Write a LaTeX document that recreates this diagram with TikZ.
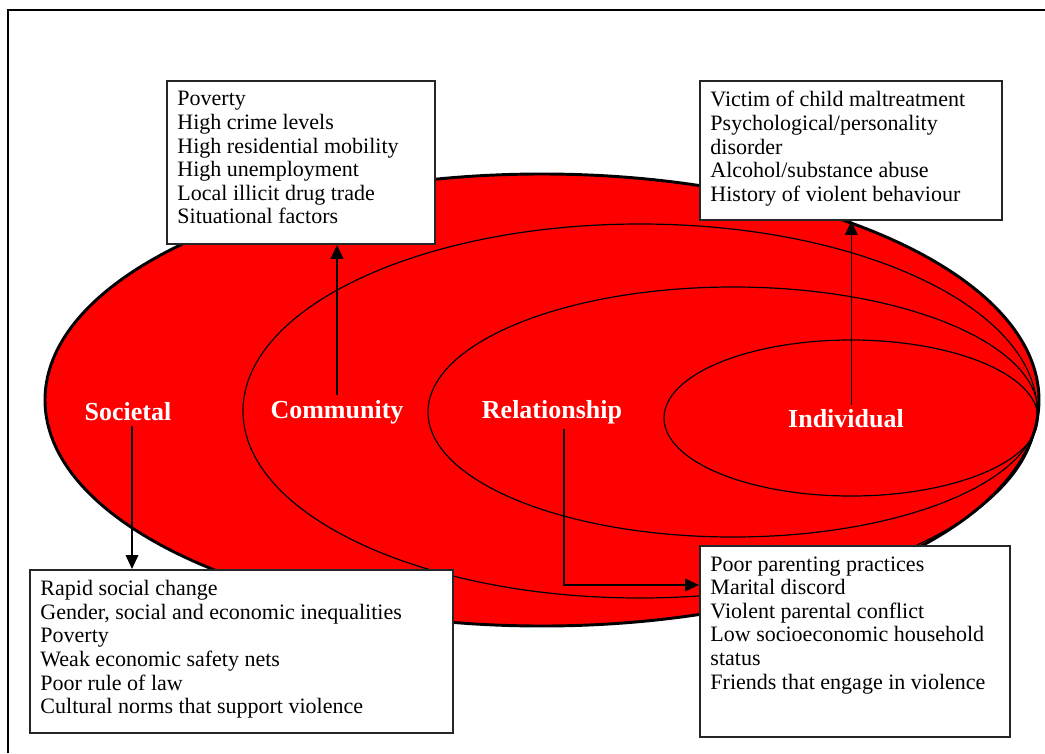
\documentclass[tikz,border=0pt]{standalone}
\usepackage{fontspec}
\setmainfont{Liberation Serif}
\usepackage{tikz}
\usetikzlibrary{arrows.meta, positioning}

% Caja de texto con alto fijo y texto arriba
\newcommand{\listafactores}[3]{\parbox[t][#2][t]{#1}{\fontsize{16.5}{17.7}\selectfont #3}}

\begin{document}
\begin{tikzpicture}[x=0.75pt, y=-0.75pt,
		nivel/.style={font=\fontsize{19.5}{22}\selectfont\bfseries, text=white},
		factores/.style={draw=black!85, line width=1.2pt, fill=white, anchor=north west, inner xsep=8pt, inner ysep=8pt},
		flecha/.style={line width=1.2pt, -{Triangle[length=10.5pt,width=9.5pt]}},
		anillo/.style={line width=0.9pt}]
	\useasboundingbox (0,0) rectangle (1045,753);
	
	% Marco
	\draw[line width=1.5pt] (8,753) -- (8,10) -- (1045,10);
	
	% Elipses de los niveles
	\draw[fill=red, line width=2.2pt] (542,400) ellipse [x radius=372.75pt, y radius=169.5pt];
	\draw[anillo] (640,411) ellipse [x radius=297.75pt, y radius=140.25pt];
	\draw[anillo] (733,412) ellipse [x radius=228.75pt, y radius=93.75pt];
	\draw[anillo] (851,418) ellipse [x radius=140.25pt, y radius=58.5pt];
	
	% Nombres de los niveles
	\node[nivel] (soc) at (128,412) {Societal};
	\node[nivel] (com) at (337,412) {Community};
	\node[nivel] (rel) at (552,412) {Relationship};
	\node[nivel] (ind) at (846,419) {Individual};
	
	% Cajas de factores
	\node[factores] (fcom) at (166,80) {\listafactores{185.3pt}{106.5pt}{Poverty\\
			High crime levels\\
			High residential mobility\\
			High unemployment\\
			Local illicit drug trade\\
			Situational factors}};
	\node[factores] (find) at (699,80) {\listafactores{210.8pt}{88.5pt}{Victim of child maltreatment\\
			Psychological/personality\\
			disorder\\
			Alcohol/substance abuse\\
			History of violent behaviour}};
	\node[factores] (fsoc) at (29,569) {\listafactores{301.5pt}{106.5pt}{Rapid social change\\
			Gender, social and economic inequalities\\
			Poverty\\
			Weak economic safety nets\\
			Poor rule of law\\
			Cultural norms that support violence}};
	\node[factores] (frel) at (699,545) {\listafactores{216.8pt}{127.5pt}{Poor parenting practices\\
			Marital discord\\
			Violent parental conflict\\
			Low socioeconomic household\\
			status\\
			Friends that engage in violence}};
	
	% Flechas
	\draw[flecha] (com.north) -- (com.north |- fcom.south);
	\draw[flecha] ([xshift=4pt]ind.north) -- ([xshift=4pt]ind.north |- find.south);
	\draw[flecha] ([xshift=3pt]soc.south) -- ([xshift=3pt]soc.south |- fsoc.north);
	\draw[flecha] ([xshift=9pt]rel.south) |- ([yshift=-30pt]frel.north west);
\end{tikzpicture}
\end{document}
